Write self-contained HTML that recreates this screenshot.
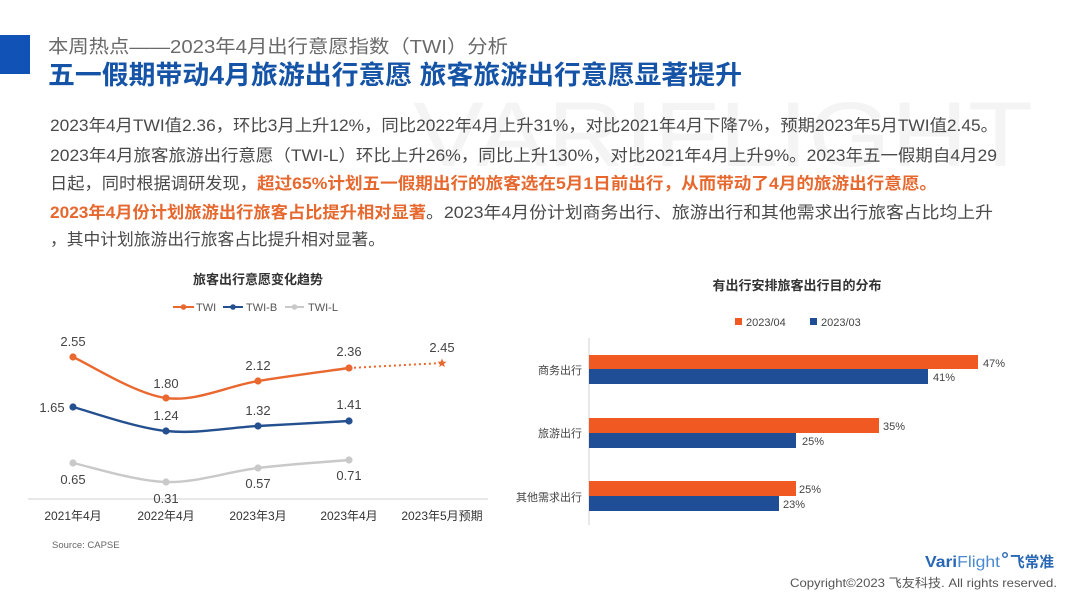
<!DOCTYPE html>
<html><head><meta charset="utf-8"><style>
html,body{margin:0;padding:0;background:#fff;}
svg{display:block;}
text{font-family:"Liberation Sans","Noto Sans CJK SC",sans-serif;}
</style></head><body>
<svg width="1080" height="607" viewBox="0 0 1080 607" xmlns="http://www.w3.org/2000/svg">
<rect width="1080" height="607" fill="#fff"/>
<!-- watermark -->
<text x="413" y="166" font-size="92" fill="#f4f4f4" textLength="620" lengthAdjust="spacingAndGlyphs">VARIFLIGHT</text>
<!-- header -->
<rect x="0" y="35" width="30" height="39" fill="#1152b6"/>
<text x="48" y="53" font-size="18.5" fill="#6a6a6a" textLength="460" lengthAdjust="spacingAndGlyphs">本周热点——2023年4月出行意愿指数（TWI）分析</text>
<text x="48" y="84" font-size="26" font-weight="bold" fill="#1553a6" textLength="694" lengthAdjust="spacingAndGlyphs">五一假期带动4月旅游出行意愿 旅客旅游出行意愿显著提升</text>
<!-- body text -->
<g font-size="16.5" fill="#4a4a4a">
<text x="50" y="131" textLength="948" lengthAdjust="spacingAndGlyphs">2023年4月TWI值2.36，环比3月上升12%，同比2022年4月上升31%，对比2021年4月下降7%，预期2023年5月TWI值2.45。</text>
<text x="50" y="161" textLength="947" lengthAdjust="spacingAndGlyphs">2023年4月旅客旅游出行意愿（TWI-L）环比上升26%，同比上升130%，对比2021年4月上升9%。2023年五一假期自4月29</text>
<text x="50" y="189" textLength="207" lengthAdjust="spacingAndGlyphs">日起，同时根据调研发现，</text>
<text x="257" y="189" textLength="680" lengthAdjust="spacingAndGlyphs" fill="#e6682e" font-weight="bold">超过65%计划五一假期出行的旅客选在5月1日前出行，从而带动了4月的旅游出行意愿。</text>
<text x="50" y="218" textLength="376" lengthAdjust="spacingAndGlyphs" fill="#e6682e" font-weight="bold">2023年4月份计划旅游出行旅客占比提升相对显著</text>
<text x="426" y="218" textLength="567" lengthAdjust="spacingAndGlyphs">。2023年4月份计划商务出行、旅游出行和其他需求出行旅客占比均上升</text>
<text x="50" y="245" textLength="335" lengthAdjust="spacingAndGlyphs">，其中计划旅游出行旅客占比提升相对显著。</text>
</g>
<!-- line chart -->
<text x="258" y="284" font-size="13" font-weight="bold" fill="#333" text-anchor="middle">旅客出行意愿变化趋势</text>
<g font-size="11" fill="#555">
<line x1="173" y1="307" x2="194" y2="307" stroke="#e9682f" stroke-width="2"/><circle cx="183.5" cy="307" r="2.8" fill="#e9682f"/>
<text x="196" y="311">TWI</text>
<line x1="223" y1="307" x2="243" y2="307" stroke="#24508f" stroke-width="2"/><circle cx="233" cy="307" r="2.8" fill="#24508f"/>
<text x="246" y="311">TWI-B</text>
<line x1="285" y1="307" x2="304" y2="307" stroke="#c9c9c9" stroke-width="2"/><circle cx="294.5" cy="307" r="2.8" fill="#c9c9c9"/>
<text x="308" y="311">TWI-L</text>
</g>
<line x1="28" y1="499" x2="488" y2="499" stroke="#d9d9d9" stroke-width="1.2"/>
<path d="M73,357 C88.5,363.8 135.2,394 166,398 C196.8,402 227.5,386 258,381 C288.5,376 333.8,370.2 349,368" fill="none" stroke="#e9682f" stroke-width="2.4"/>
<line x1="349" y1="368" x2="442" y2="363" stroke="#e9682f" stroke-width="2" stroke-dasharray="2,3"/>
<path d="M73,407 C88.5,411 135.2,427.8 166,431 C196.8,434.2 227.5,427.7 258,426 C288.5,424.3 333.8,421.8 349,421" fill="none" stroke="#24508f" stroke-width="2.4"/>
<path d="M73,463 C88.5,466.2 135.2,481.2 166,482 C196.8,482.8 227.5,471.7 258,468 C288.5,464.3 333.8,461.3 349,460" fill="none" stroke="#c9c9c9" stroke-width="2.4"/>
<g fill="#e9682f"><circle cx="73" cy="357" r="3.6"/><circle cx="166" cy="398" r="3.6"/><circle cx="258" cy="381" r="3.6"/><circle cx="349" cy="368" r="3.6"/>
<polygon points="442,358.5 443.3,361.6 446.5,361.8 444,363.9 444.8,367 442,365.3 439.2,367 440,363.9 437.5,361.8 440.7,361.6"/></g>
<g fill="#24508f"><circle cx="73" cy="407" r="3.6"/><circle cx="166" cy="431" r="3.6"/><circle cx="258" cy="426" r="3.6"/><circle cx="349" cy="421" r="3.6"/></g>
<g fill="#c9c9c9"><circle cx="73" cy="463" r="3.6"/><circle cx="166" cy="482" r="3.6"/><circle cx="258" cy="468" r="3.6"/><circle cx="349" cy="460" r="3.6"/></g>
<g font-size="13" fill="#444" text-anchor="middle">
<text x="73" y="346">2.55</text><text x="166" y="388">1.80</text><text x="258" y="370">2.12</text><text x="349" y="356">2.36</text><text x="442" y="352">2.45</text>
<text x="52" y="412">1.65</text><text x="166" y="420">1.24</text><text x="258" y="415">1.32</text><text x="349" y="409">1.41</text>
<text x="73" y="484">0.65</text><text x="166" y="503">0.31</text><text x="258" y="488">0.57</text><text x="349" y="480">0.71</text>
</g>
<g font-size="12" fill="#333" text-anchor="middle">
<text x="73" y="520">2021年4月</text><text x="166" y="520">2022年4月</text><text x="258" y="520">2023年3月</text><text x="349" y="520">2023年4月</text><text x="442" y="520">2023年5月预期</text>
</g>
<text x="52" y="548" font-size="9.5" fill="#666">Source: CAPSE</text>
<!-- bar chart -->
<text x="797" y="290" font-size="13" font-weight="bold" fill="#333" text-anchor="middle">有出行安排旅客出行目的分布</text>
<rect x="735" y="318" width="7" height="7" fill="#f05a22"/>
<text x="746" y="326" font-size="11" fill="#444">2023/04</text>
<rect x="810" y="318" width="7" height="7" fill="#1f4e96"/>
<text x="821" y="326" font-size="11" fill="#444">2023/03</text>
<line x1="589" y1="338" x2="589" y2="525" stroke="#d0d0d0" stroke-width="1"/>
<g fill="#f05a22">
<rect x="589" y="355" width="389" height="14"/>
<rect x="589" y="418" width="290" height="15"/>
<rect x="589" y="481" width="207" height="15"/>
</g>
<g fill="#1f4e96">
<rect x="589" y="369" width="339" height="15"/>
<rect x="589" y="433" width="207" height="15"/>
<rect x="589" y="496" width="190" height="15"/>
</g>
<g font-size="11" fill="#444">
<text x="983" y="367">47%</text><text x="933" y="381">41%</text>
<text x="883" y="430">35%</text><text x="802" y="445">25%</text>
<text x="799" y="493">25%</text><text x="783" y="508">23%</text>
</g>
<g font-size="11" fill="#444" text-anchor="end">
<text x="582" y="374">商务出行</text><text x="582" y="437">旅游出行</text><text x="582" y="501">其他需求出行</text>
</g>
<!-- footer -->
<text x="925" y="567" font-size="16" fill="#2a67b3" textLength="75" lengthAdjust="spacingAndGlyphs"><tspan font-weight="bold">Vari</tspan><tspan fill="#4b8ad0">Flight</tspan></text>
<circle cx="1005" cy="555" r="2.3" fill="none" stroke="#2a67b3" stroke-width="1.4"/>
<text x="1010" y="567" font-size="15" font-weight="bold" fill="#2a67b3" textLength="44" lengthAdjust="spacingAndGlyphs">飞常准</text>
<text x="790" y="587" font-size="12" fill="#555" textLength="267" lengthAdjust="spacingAndGlyphs">Copyright©2023 飞友科技. All rights reserved.</text>
</svg>
</body></html>
